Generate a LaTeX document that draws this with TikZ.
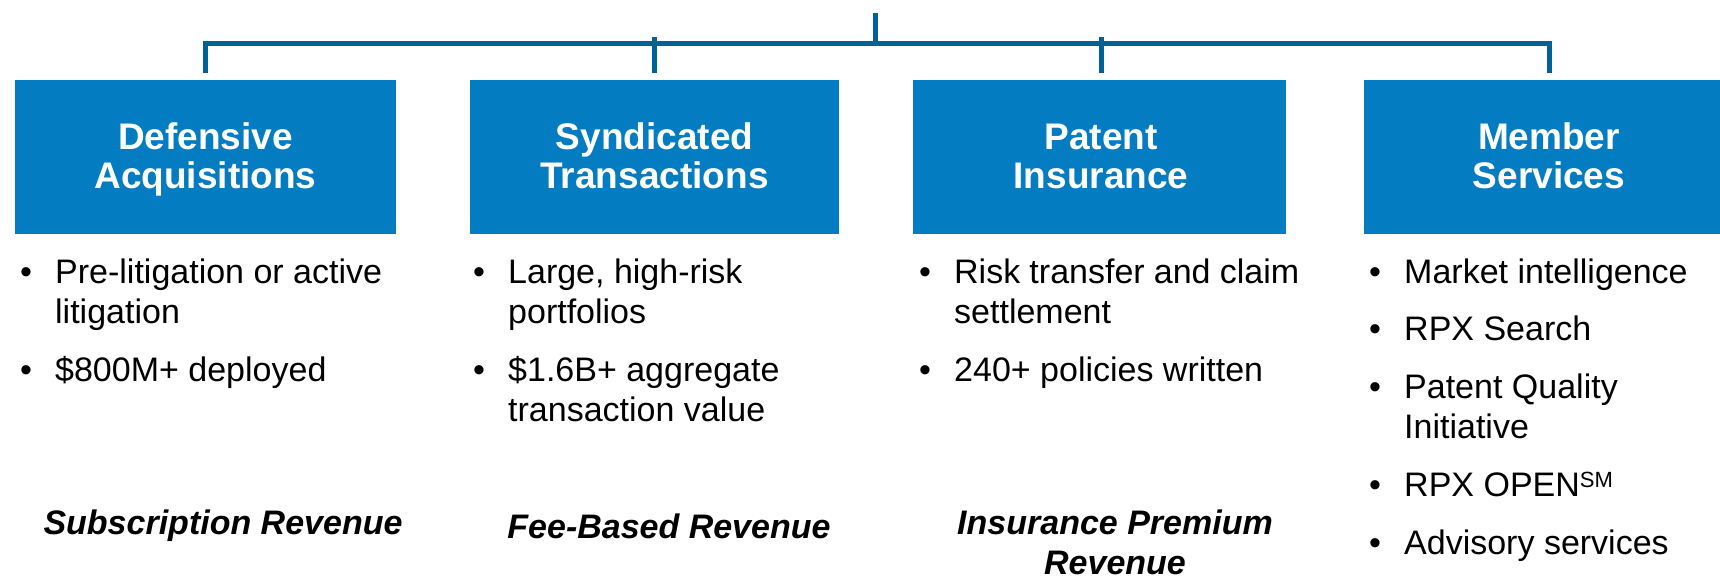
\documentclass[tikz,border=0pt]{standalone}
\usepackage{fontspec}
\setmainfont{Liberation Sans}

\definecolor{boxblue}{RGB}{3,124,194}
\definecolor{linkblue}{RGB}{0,96,152}

% one bullet paragraph with a hanging indent
\newcommand\bitem[1]{\hangindent=35pt\hangafter=1\noindent\makebox[35pt][l]{\textbullet}#1}
\newcommand\bnext{\par\vskip 17pt}

\tikzset{
  unitbox/.style={fill=boxblue, draw=none, minimum height=154pt, inner sep=0pt},
  boxtitle/.style={anchor=base, inner sep=0pt, text=white,
    font=\fontsize{37}{39}\selectfont\bfseries},
  conn/.style={draw=linkblue, line width=5pt},
  itemlist/.style={anchor=base west, inner sep=0pt,
    font=\fontsize{34}{40.6}\selectfont},
  revenue/.style={anchor=base, inner sep=0pt,
    font=\fontsize{34}{40.6}\selectfont\bfseries\itshape},
}

\begin{document}
\begin{tikzpicture}[x=1pt, y=-1pt]
\useasboundingbox (0,0) rectangle (1720,579);

% business unit boxes
\node[unitbox, minimum width=381pt] (box1) at (205.5,157) {};
\node[unitbox, minimum width=369pt] (box2) at (654.5,157) {};
\node[unitbox, minimum width=373pt] (box3) at (1099.5,157) {};
\node[unitbox, minimum width=370pt] (box4) at (1549,157) {};

% box titles
\node[boxtitle] (t1) at (205.5,149) {\parbox[t]{340pt}{\centering Defensive\\Acquisitions}};
\node[boxtitle] (t2) at (654.5,149) {\parbox[t]{340pt}{\centering Syndicated\\Transactions}};
\node[boxtitle] (t3) at (1101,149) {\parbox[t]{340pt}{\centering Patent\\Insurance}};
\node[boxtitle] (t4) at (1549,149) {\parbox[t]{340pt}{\centering Member\\Services}};

% tree connectors
\coordinate (top) at (875,13);
\coordinate (hub) at (875,43.5);
\draw[conn] (top) -- (hub);
\draw[conn] ([yshift=7pt]box1.north) |- (hub);
\draw[conn] ([yshift=7pt]box4.north) |- (hub);
\draw[conn] ([yshift=7pt]box2.north) -- ([yshift=7pt]box2.north |- hub);
\draw[conn] ([yshift=7pt,xshift=1.5pt]box3.north) -- ([yshift=7pt,xshift=1.5pt]box3.north |- hub);

% bullet lists
\node[itemlist] (l1) at (20,283) {\parbox[t]{380pt}{\raggedright
  \bitem{Pre-litigation or active\newline litigation}\bnext
  \bitem{\$800M+ deployed}}};
\node[itemlist] (l2) at (473,283) {\parbox[t]{380pt}{\raggedright
  \bitem{Large, high-risk\newline portfolios}\bnext
  \bitem{\$1.6B+ aggregate\newline transaction value}}};
\node[itemlist] (l3) at (919,283) {\parbox[t]{380pt}{\raggedright
  \bitem{Risk transfer and claim\newline settlement}\bnext
  \bitem{240+ policies written}}};
\node[itemlist] (l4) at (1369,283) {\parbox[t]{360pt}{\raggedright
  \bitem{Market intelligence}\bnext
  \bitem{RPX Search}\bnext
  \bitem{Patent Quality\newline Initiative}\bnext
  \bitem{RPX OPEN\raisebox{8.5pt}{\fontsize{22}{22}\selectfont SM}}\bnext
  \bitem{Advisory services}}};

% revenue types
\node[revenue] (r1) at (223,534) {\parbox[t]{400pt}{\centering Subscription Revenue}};
\node[revenue] (r2) at (669,538) {\parbox[t]{400pt}{\centering Fee-Based Revenue}};
\node[revenue] (r3) at (1115,534) {\parbox[t]{400pt}{\centering Insurance Premium\\Revenue}};
\end{tikzpicture}
\end{document}
